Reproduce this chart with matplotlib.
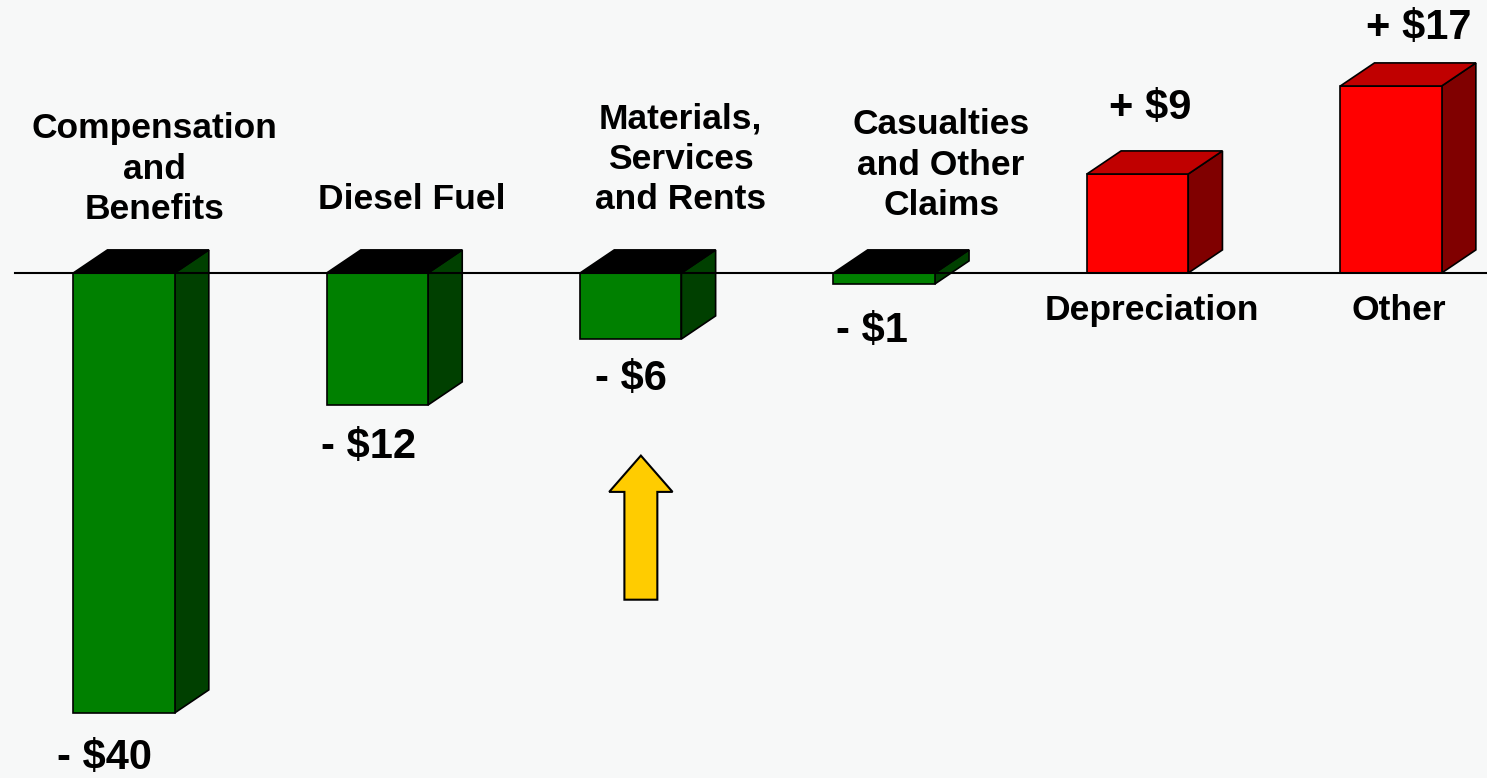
import numpy as np
import matplotlib
matplotlib.use("Agg")
import matplotlib.pyplot as plt
from matplotlib.patches import Polygon, FancyArrow

# data
categories = ['Compensation\nand\nBenefits', 'Diesel Fuel', 'Materials,\nServices\nand Rents',
              'Casualties\nand Other\nClaims', 'Depreciation', 'Other']
changes = [-40, -12, -6, -1, 9, 17]
value_labels = ['- $40', '- $12', '- $6', '- $1', '+ $9', '+ $17']

# label nudges in pixels (layout only)
cat_dx = [31, 34, 50, 57, 14, 8]
cat_dy = [47, 57, 57, 51, -21, -21]
val_dx = [-19, -9, 0, -12, 13, 28]
val_dy = [-25, -22, -20, -27, 32, 24]

plt.rcParams['font.family'] = ['Liberation Sans', 'DejaVu Sans']

bg = '#f7f8f8'
fig = plt.figure(figsize=(14.87, 7.78), dpi=100, facecolor=bg)
ax = fig.add_axes([0, 0, 1, 1])
ax.set_facecolor(bg)
ax.set_xlim(-0.489, 5.379)
ax.set_ylim(-45.91, 24.82)
ax.axis('off')

w = 0.4      # front face width
dx = 0.135   # depth offset in x
dy = 2.1     # depth offset in y

for i, v in enumerate(changes):
    x0, x1 = i - w / 2, i + w / 2
    if v < 0:
        front, top, side = '#008000', '#000000', '#004000'
        ty = 0
    else:
        front, top, side = '#ff0000', '#c00000', '#800000'
        ty = v
    ax.bar(i, v, width=w, color=front, edgecolor='black', linewidth=1.2, zorder=2)
    ax.add_patch(Polygon([(x0, ty), (x0 + dx, ty + dy), (x1 + dx, ty + dy), (x1, ty)],
                         closed=True, facecolor=top, edgecolor='black', lw=1.2, zorder=2))
    ax.add_patch(Polygon([(x1, 0), (x1 + dx, dy), (x1 + dx, v + dy), (x1, v)],
                         closed=True, facecolor=side, edgecolor='black', lw=1.2, zorder=1))

    # category label
    if v < 0:
        ax.annotate(categories[i], (i, 0), xytext=(cat_dx[i], cat_dy[i]), textcoords='offset pixels',
                    ha='center', va='bottom', fontsize=25.5, fontweight='bold', linespacing=1.28)
        ax.annotate(value_labels[i], (i, v), xytext=(val_dx[i], val_dy[i]), textcoords='offset pixels',
                    ha='center', va='top', fontsize=30, fontweight='bold')
    else:
        ax.annotate(categories[i], (i, 0), xytext=(cat_dx[i], cat_dy[i]), textcoords='offset pixels',
                    ha='center', va='top', fontsize=25.5, fontweight='bold')
        ax.annotate(value_labels[i], (i, v + dy), xytext=(val_dx[i], val_dy[i]), textcoords='offset pixels',
                    ha='center', va='baseline', fontsize=30, fontweight='bold')

# zero line
ax.axhline(0, xmin=15 / 1487, xmax=1, color='black', lw=1.5, zorder=3)

# yellow arrow under materials
ax.add_patch(FancyArrow(2.04, -29.7, 0, 13.1, width=0.13, head_width=0.25, head_length=3.3,
                        length_includes_head=True, facecolor='#ffcc00', edgecolor='black',
                        lw=1.5, zorder=2))

fig.savefig('out.png', dpi=100, facecolor=bg)
